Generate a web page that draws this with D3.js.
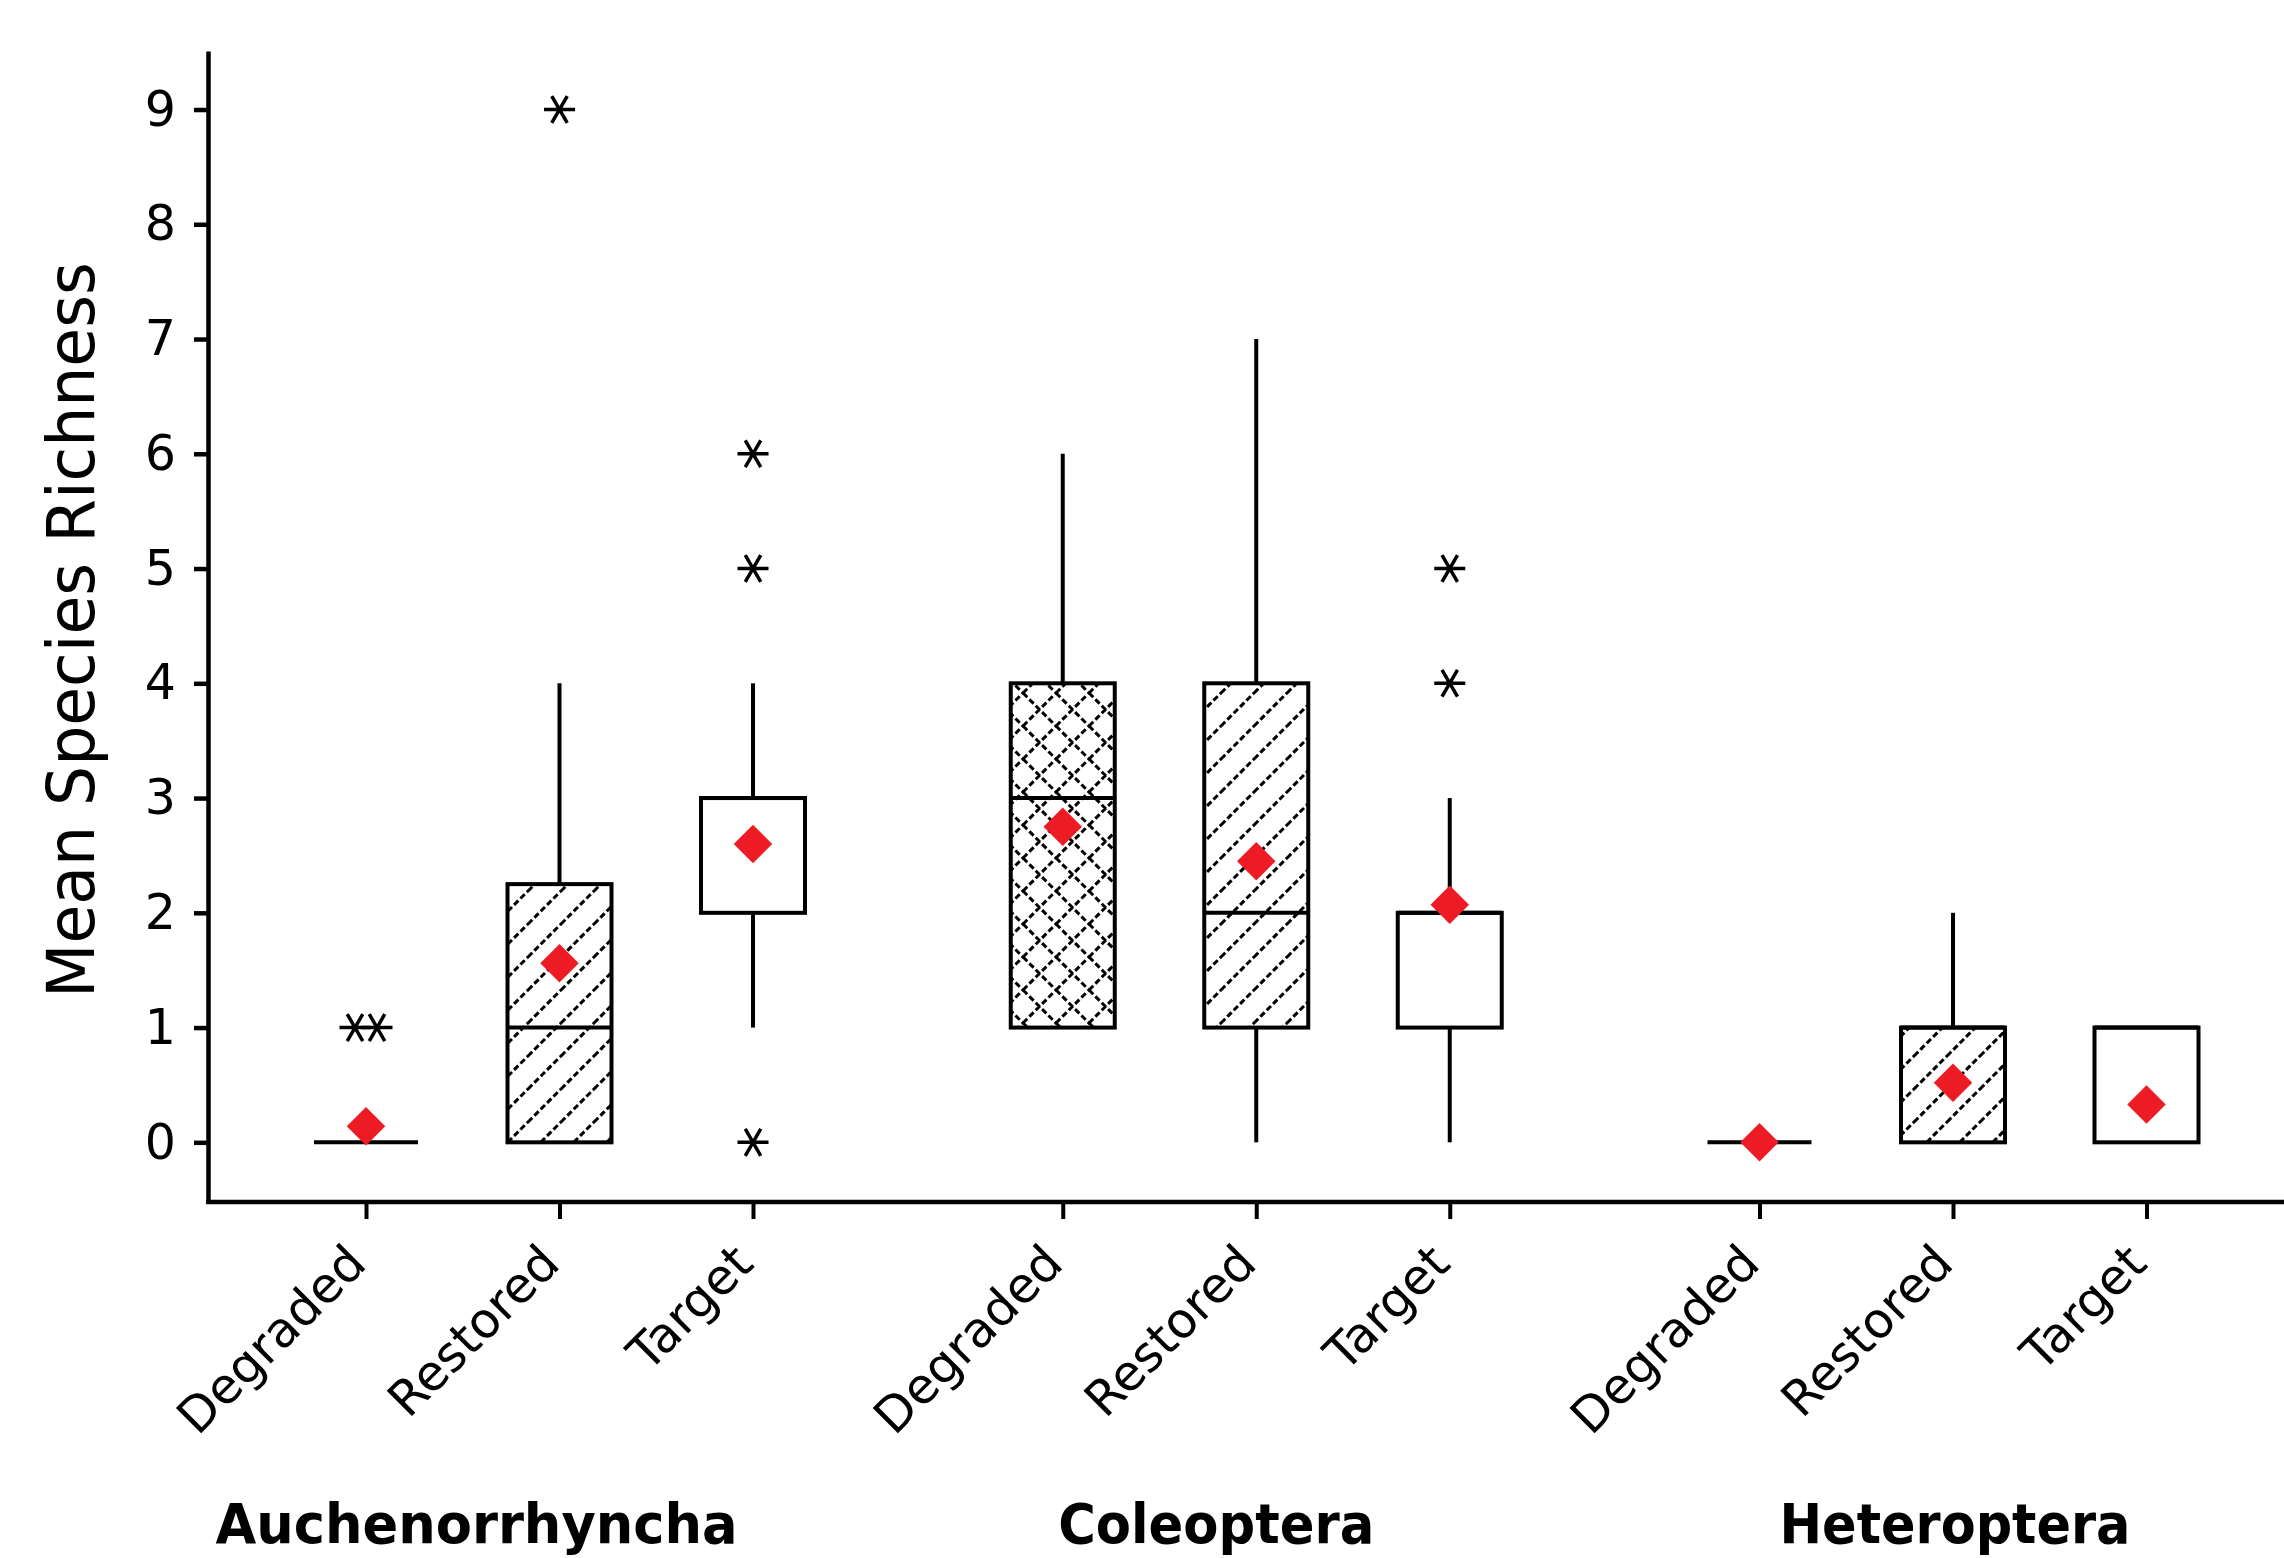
<!DOCTYPE html>
<html>
<head>
<meta charset="utf-8">
<script src="https://cdn.jsdelivr.net/npm/d3@7"></script>
<style>
  body { margin: 0; background: #fff; }
  text { font-family: "DejaVu Sans", sans-serif; fill: #000; }
</style>
</head>
<body>
<div id="chart"></div>
<script>
// Categories
var groups = ["Auchenorrhyncha", "Coleoptera", "Heteroptera"];
var conditions = ["Degraded", "Restored", "Target"];
var yTicks = [0, 1, 2, 3, 4, 5, 6, 7, 8, 9];

// Box summaries, one row per group, columns in condition order
var whiskerLow  = [[0, 0, 1], [1, 0, 0], [0, 0, 0]];
var q1          = [[0, 0, 2], [1, 1, 1], [0, 0, 0]];
var median      = [[0, 1, 3], [3, 2, 2], [0, 1, 1]];
var q3          = [[0, 2.25, 3], [4, 4, 2], [0, 1, 1]];
var whiskerHigh = [[0, 4, 4], [6, 7, 3], [0, 2, 1]];
var means       = [[0.14, 1.56, 2.6], [2.75, 2.45, 2.07], [0, 0.52, 0.33]];
var outliers    = [[[1, 1], [9], [0, 5, 6]], [[], [], [4, 5]], [[], [], []]];

// Layout
var fullWidth = 2284;
var fullHeight = 1558;
var plot = { left: 208, right: 2284, top: 51, bottom: 1202 };
var boxWidth = 104;
var lineW = 4;
var groupLabelDx = [-83, -40, 2];
var groupLabelLen = [522, 316, 351];
var fills = { "Degraded": "url(#crosshatch)", "Restored": "url(#hatch)", "Target": "#fff" };

var svg = d3.select("#chart")
    .append("svg")
    .attr("width", fullWidth)
    .attr("height", fullHeight);

// hatch patterns
var defs = svg.append("defs");
var hatch = defs.append("pattern")
    .attr("id", "hatch")
    .attr("patternUnits", "userSpaceOnUse")
    .attr("width", 33).attr("height", 33);
hatch.append("rect").attr("width", 33).attr("height", 33).attr("fill", "#fff");
hatch.append("path")
    .attr("d", "M-8,8L8,-8M0,33L33,0M25,41L41,25")
    .attr("stroke", "#000")
    .attr("stroke-width", 3)
    .attr("stroke-dasharray", "6 3");

var cross = defs.append("pattern")
    .attr("id", "crosshatch")
    .attr("patternUnits", "userSpaceOnUse")
    .attr("width", 33).attr("height", 33);
cross.append("rect").attr("width", 33).attr("height", 33).attr("fill", "#fff");
cross.append("path")
    .attr("d", "M-8,8L8,-8M0,33L33,0M25,41L41,25M-8,25L8,41M0,0L33,33M25,-8L41,8")
    .attr("stroke", "#000")
    .attr("stroke-width", 3)
    .attr("stroke-dasharray", "6 3");

var yScale = d3.scaleLinear()
    .domain([-0.52, 9.51])
    .range([plot.bottom, plot.top]);

var groupScale = d3.scalePoint()
    .domain(groups)
    .range([559.5, 1953]);

var condScale = d3.scalePoint()
    .domain(conditions)
    .range([-193.5, 193.5]);

// flatten into one record per box
var boxes = [];
groups.forEach(function(g, gi) {
    conditions.forEach(function(c, ci) {
        boxes.push({
            key: g + "|" + c,
            group: g, cond: c,
            lo: whiskerLow[gi][ci], q1: q1[gi][ci], med: median[gi][ci],
            q3: q3[gi][ci], hi: whiskerHigh[gi][ci],
            mean: means[gi][ci], out: outliers[gi][ci]
        });
    });
});

var xScale = d3.scaleOrdinal()
    .domain(boxes.map(function(d) { return d.key; }))
    .range(boxes.map(function(d) { return groupScale(d.group) + condScale(d.cond); }));

// Y axis
var yAxis = d3.axisLeft(yScale)
    .tickValues(yTicks)
    .tickSize(14)
    .tickSizeOuter(0)
    .tickPadding(18);

var gy = svg.append("g")
    .attr("transform", "translate(" + plot.left + ",0)")
    .call(yAxis);
gy.select(".domain").attr("stroke-width", 4.5);
gy.selectAll(".tick line").attr("stroke-width", 4.5);
gy.selectAll(".tick text")
    .style("font-size", "49px")
    .style("font-family", "DejaVu Sans");

// X axis
var xAxis = d3.axisBottom(xScale)
    .tickSize(17)
    .tickFormat(function(d) { return d.split("|")[1]; });

var gx = svg.append("g")
    .attr("transform", "translate(0," + plot.bottom + ")")
    .call(xAxis);
gx.select(".domain").remove();
gx.selectAll(".tick line").attr("stroke-width", 4);
gx.selectAll(".tick text")
    .attr("x", 0).attr("y", 0).attr("dy", 0)
    .attr("transform", "translate(2,64) rotate(-45)")
    .style("text-anchor", "end")
    .style("font-size", "49px")
    .style("font-family", "DejaVu Sans");

svg.append("line")
    .attr("x1", plot.left - 2).attr("x2", plot.right)
    .attr("y1", plot.bottom).attr("y2", plot.bottom)
    .attr("stroke", "#000")
    .attr("stroke-width", 4.5);

// boxes
var marks = svg.append("g");

marks.selectAll(".box")
    .data(boxes.filter(function(d) { return d.q3 > d.q1; }))
    .enter()
    .append("rect")
        .attr("class", "box")
        .attr("x", function(d) { return xScale(d.key) - boxWidth / 2; })
        .attr("y", function(d) { return yScale(d.q3); })
        .attr("width", boxWidth)
        .attr("height", function(d) { return yScale(d.q1) - yScale(d.q3); })
        .attr("fill", function(d) { return fills[d.cond]; })
        .attr("stroke", "#000")
        .attr("stroke-width", lineW);

// whiskers
marks.selectAll(".whisker-hi")
    .data(boxes.filter(function(d) { return d.hi > d.q3; }))
    .enter()
    .append("line")
        .attr("x1", function(d) { return xScale(d.key); })
        .attr("x2", function(d) { return xScale(d.key); })
        .attr("y1", function(d) { return yScale(d.q3); })
        .attr("y2", function(d) { return yScale(d.hi); })
        .attr("stroke", "#000")
        .attr("stroke-width", lineW);

marks.selectAll(".whisker-lo")
    .data(boxes.filter(function(d) { return d.lo < d.q1; }))
    .enter()
    .append("line")
        .attr("x1", function(d) { return xScale(d.key); })
        .attr("x2", function(d) { return xScale(d.key); })
        .attr("y1", function(d) { return yScale(d.q1); })
        .attr("y2", function(d) { return yScale(d.lo); })
        .attr("stroke", "#000")
        .attr("stroke-width", lineW);

// medians
marks.selectAll(".median")
    .data(boxes)
    .enter()
    .append("line")
        .attr("x1", function(d) { return xScale(d.key) - boxWidth / 2; })
        .attr("x2", function(d) { return xScale(d.key) + boxWidth / 2; })
        .attr("y1", function(d) { return yScale(d.med); })
        .attr("y2", function(d) { return yScale(d.med); })
        .attr("stroke", "#000")
        .attr("stroke-width", lineW);

// outliers (asterisks), repeated values sit side by side
var outPts = [];
boxes.forEach(function(b) {
    var counts = d3.rollup(b.out, function(v) { return v.length; }, function(v) { return v; });
    var seen = new Map();
    b.out.forEach(function(v) {
        var n = counts.get(v);
        var k = seen.get(v) || 0;
        seen.set(v, k + 1);
        outPts.push({ key: b.key, value: v, shift: (k - (n - 1) / 2) * 22 });
    });
});

var asterisk = d3.symbol().type(d3.symbolAsterisk).size(680);
marks.selectAll(".outlier")
    .data(outPts)
    .enter()
    .append("path")
        .attr("d", asterisk)
        .attr("transform", function(d) {
            return "translate(" + (xScale(d.key) + d.shift) + "," + yScale(d.value) + ") rotate(90)";
        })
        .attr("fill", "none")
        .attr("stroke", "#000")
        .attr("stroke-width", 3.5);

// means
var diamond = d3.symbol().type(d3.symbolSquare).size(740);
marks.selectAll(".mean")
    .data(boxes)
    .enter()
    .append("path")
        .attr("d", diamond)
        .attr("transform", function(d) {
            return "translate(" + xScale(d.key) + "," + yScale(d.mean) + ") rotate(45)";
        })
        .attr("fill", "#ed1c24");

// group labels
svg.selectAll(".group-label")
    .data(groups)
    .enter()
    .append("text")
        .attr("x", function(d, i) { return groupScale(d) + groupLabelDx[i]; })
        .attr("y", 1543)
        .attr("text-anchor", "middle")
        .attr("textLength", function(d, i) { return groupLabelLen[i]; })
        .attr("lengthAdjust", "spacingAndGlyphs")
        .style("font-size", "55px")
        .style("font-weight", "bold")
        .text(function(d) { return d; });

// y title
svg.append("text")
    .attr("transform", "translate(94,630) rotate(-90)")
    .attr("text-anchor", "middle")
    .attr("textLength", 736)
    .attr("lengthAdjust", "spacingAndGlyphs")
    .style("font-size", "66px")
    .text("Mean Species Richness");
</script>
</body>
</html>
